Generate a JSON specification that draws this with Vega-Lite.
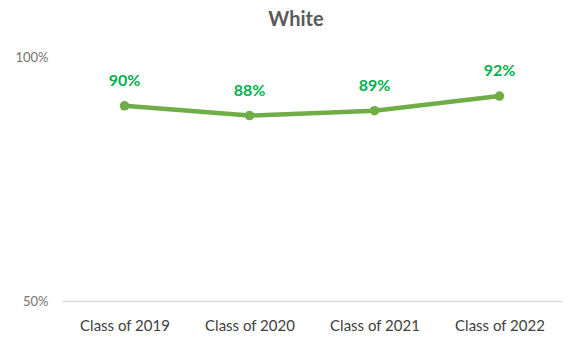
{
  "$schema": "https://vega.github.io/schema/vega-lite/v6.json",
  "width": 500,
  "height": 244,
  "autosize": "none",
  "padding": {"left": 62, "top": 57, "right": 9, "bottom": 45},
  "background": "white",
  "title": {
    "text": "White",
    "fontSize": 20,
    "fontWeight": "bold",
    "color": "#595959",
    "font": "Lato",
    "anchor": "middle",
    "offset": 21,
    "dx": -16
  },
  "config": {
    "view": {"stroke": null},
    "font": "Lato"
  },
  "data": {
    "values": [
      {"cls": "Class of 2019", "rate": 0.90},
      {"cls": "Class of 2020", "rate": 0.88},
      {"cls": "Class of 2021", "rate": 0.89},
      {"cls": "Class of 2022", "rate": 0.92}
    ]
  },
  "encoding": {
    "x": {
      "field": "cls",
      "type": "ordinal",
      "scale": {"paddingInner": 0, "paddingOuter": 0},
      "axis": {
        "title": null,
        "labelAngle": 0,
        "labelFontSize": 15,
        "labelColor": "#404040",
        "labelFont": "Lato",
        "labelPadding": 17,
        "ticks": false,
        "domainColor": "#D9D9D9",
        "domainWidth": 1.5,
        "grid": false
      }
    },
    "y": {
      "field": "rate",
      "type": "quantitative",
      "scale": {"domain": [0.5, 1], "nice": false},
      "axis": {
        "title": null,
        "values": [0.5, 1],
        "format": ".0%",
        "labelFontSize": 13,
        "labelColor": "#737373",
        "labelFont": "Lato",
        "labelPadding": 14,
        "ticks": false,
        "domain": false,
        "grid": false
      }
    }
  },
  "layer": [
    {
      "mark": {"type": "line", "color": "#70AD47", "strokeWidth": 4.5}
    },
    {
      "mark": {"type": "point", "filled": true, "color": "#70AD47", "size": 90, "opacity": 1}
    },
    {
      "mark": {"type": "text", "color": "#00B050", "fontSize": 16, "fontWeight": "bold", "dy": -25, "font": "Lato"},
      "encoding": {
        "text": {"field": "rate", "type": "quantitative", "format": ".0%"}
      }
    }
  ]
}
